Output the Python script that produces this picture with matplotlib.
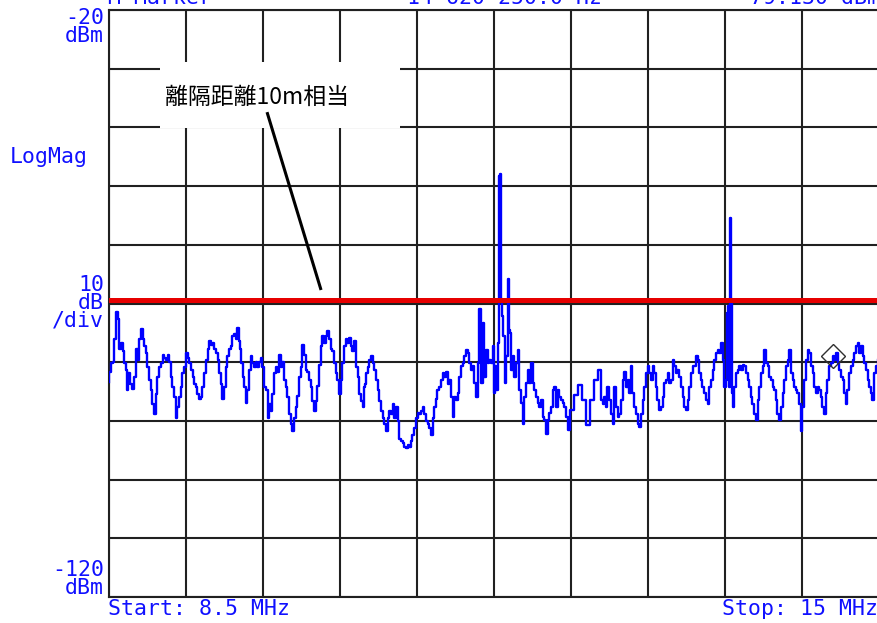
import matplotlib
matplotlib.use("Agg")
import matplotlib.pyplot as plt
from matplotlib.patches import Rectangle

# ---------------- data ----------------
start_mhz, stop_mhz = 8.5, 15.0
ref_top_dbm, ref_bottom_dbm = -20, -120
x_divisions = 10
y_divisions = 10

trace_freq = [
    8.500, 8.508, 8.523, 8.537, 8.551, 8.565, 8.579, 8.584, 8.593, 8.607, 8.621, 8.635, 8.649, 8.658,
    8.669, 8.686, 8.705, 8.719, 8.734, 8.748, 8.762, 8.776, 8.790, 8.804, 8.818, 8.832, 8.846, 8.860,
    8.874, 8.888, 8.902, 8.916, 8.931, 8.945, 8.959, 8.973, 8.987, 9.001, 9.015, 9.029, 9.043, 9.057,
    9.071, 9.085, 9.099, 9.113, 9.127, 9.142, 9.156, 9.170, 9.184, 9.198, 9.212, 9.226, 9.240, 9.254,
    9.268, 9.282, 9.296, 9.310, 9.325, 9.339, 9.353, 9.367, 9.381, 9.395, 9.409, 9.423, 9.437, 9.451,
    9.465, 9.479, 9.493, 9.507, 9.521,
    9.535, 9.549, 9.563, 9.577, 9.591, 9.600, 9.611, 9.622, 9.634, 9.648, 9.662, 9.676, 9.690, 9.704,
    9.718, 9.732, 9.746, 9.760, 9.774, 9.788, 9.802, 9.816, 9.831, 9.845, 9.859, 9.873, 9.887, 9.901,
    9.915, 9.929, 9.943, 9.957, 9.971, 9.985, 9.999, 10.013, 10.027, 10.042, 10.056, 10.070, 10.084,
    10.098, 10.112, 10.126, 10.140, 10.154, 10.168, 10.182, 10.196, 10.210, 10.224, 10.238, 10.253,
    10.267, 10.281, 10.295, 10.309, 10.323, 10.337, 10.351, 10.365, 10.379, 10.393, 10.407, 10.421,
    10.435, 10.449, 10.464, 10.478, 10.492, 10.506, 10.520, 10.534, 10.548, 10.562,
    10.577, 10.591, 10.605, 10.619, 10.633, 10.647, 10.656, 10.667, 10.678, 10.690, 10.704, 10.718,
    10.732, 10.746, 10.760, 10.774, 10.788, 10.802, 10.816, 10.830, 10.844, 10.858, 10.872, 10.887,
    10.901, 10.915, 10.929, 10.943, 10.957, 10.971, 10.985, 10.999, 11.013, 11.027, 11.041, 11.055,
    11.069, 11.083, 11.098, 11.112, 11.126, 11.140, 11.154, 11.168, 11.182, 11.196, 11.210, 11.224,
    11.238, 11.252, 11.266, 11.280, 11.295, 11.309, 11.323, 11.337, 11.351, 11.365,
    11.379, 11.393, 11.407, 11.421, 11.435, 11.449, 11.463, 11.477, 11.492, 11.506, 11.520, 11.534,
    11.548, 11.562, 11.576, 11.590, 11.604, 11.618, 11.632, 11.646, 11.660, 11.674, 11.689, 11.703,
    11.717, 11.731, 11.745, 11.753, 11.764, 11.773, 11.787, 11.795, 11.807, 11.815, 11.824, 11.835,
    11.843, 11.857, 11.871, 11.880, 11.891, 11.902, 11.914, 11.928, 11.942, 11.956, 11.970, 11.984,
    11.998, 12.012, 12.026, 12.040, 12.054, 12.068, 12.083, 12.097, 12.111, 12.125, 12.139, 12.153,
    12.167, 12.181, 12.195, 12.209, 12.223, 12.237, 12.251, 12.265, 12.280, 12.294, 12.308, 12.322,
    12.336, 12.350, 12.364, 12.378,
    12.409, 12.442, 12.476, 12.510, 12.544, 12.577, 12.611,
    12.645, 12.659, 12.673, 12.687, 12.701, 12.715, 12.729, 12.743, 12.758, 12.772, 12.786, 12.800,
    12.814, 12.828, 12.842, 12.856, 12.870, 12.884, 12.898, 12.912, 12.926, 12.940, 12.955, 12.969,
    12.983, 12.997, 13.011, 13.025, 13.039, 13.053, 13.067, 13.081, 13.095, 13.109, 13.123, 13.137,
    13.152, 13.166, 13.180, 13.194, 13.208, 13.222, 13.236, 13.250, 13.264, 13.278, 13.292, 13.306,
    13.320, 13.334, 13.349, 13.363, 13.377, 13.391, 13.405, 13.419, 13.433, 13.447, 13.461, 13.475,
    13.489, 13.503, 13.517, 13.531, 13.546, 13.560, 13.574, 13.588, 13.602, 13.616, 13.630, 13.644,
    13.658, 13.672, 13.686, 13.700, 13.709, 13.720, 13.731, 13.737, 13.742, 13.748, 13.754, 13.759,
    13.765, 13.771, 13.785, 13.799, 13.813, 13.827, 13.841, 13.855, 13.869, 13.883, 13.897, 13.911,
    13.925, 13.939, 13.953, 13.968, 13.982, 13.996, 14.010, 14.024, 14.038, 14.052, 14.066, 14.080,
    14.094, 14.108, 14.122, 14.136, 14.150, 14.165, 14.179, 14.193, 14.207, 14.221, 14.235, 14.249,
    14.263, 14.277, 14.291, 14.305, 14.319, 14.333, 14.347, 14.361, 14.375, 14.390, 14.404, 14.418,
    14.432, 14.446, 14.460, 14.474, 14.488, 14.502, 14.516, 14.530, 14.544, 14.558, 14.572, 14.587,
    14.601, 14.615, 14.629, 14.643, 14.657, 14.671, 14.685, 14.699, 14.713, 14.727, 14.741, 14.755,
    14.769, 14.784, 14.798, 14.812, 14.826, 14.840, 14.854, 14.868, 14.882, 14.896, 14.910, 14.924,
    14.938, 14.952, 14.966, 14.980, 14.995,
]

trace_level = [
    -83.4, -81.6, -80.2, -79.9, -76.1, -71.5, -72.6, -76.1, -77.8, -76.7, -78.1, -80.2, -81.3, -84.8,
    -81.9, -83.7, -84.5, -82.5, -77.8, -79.6, -76.1, -74.4, -76.1, -77.3, -78.4, -80.8, -83.1, -84.8,
    -87.2, -88.9, -85.4, -82.5, -80.8, -80.2, -78.7, -79.3, -79.6, -78.7, -79.9, -82.5, -84.2, -86.0,
    -89.5, -87.7, -86.0, -84.2, -81.9, -80.8, -78.4, -79.3, -80.2, -81.3, -82.5, -83.7, -84.2, -85.4,
    -86.3, -86.0, -84.2, -81.9, -79.6, -77.8, -76.4, -77.0, -76.7, -77.8, -78.4, -79.6, -81.9, -83.7,
    -86.3, -84.2, -80.8, -79.0, -77.8,
    -77.3, -75.5, -75.2, -76.1, -74.1, -76.4, -77.8, -80.2, -82.5, -84.2, -86.9, -84.8, -81.3, -79.0,
    -80.2, -80.8, -79.9, -80.8, -79.9, -79.3, -80.8, -84.2, -84.8, -89.5, -87.2, -88.3, -85.4, -81.9,
    -80.8, -81.6, -78.7, -80.8, -79.9, -83.1, -84.2, -86.0, -88.9, -90.6, -91.8, -89.5, -87.7,
    -85.7, -82.5, -80.8, -77.0, -78.7, -81.3, -81.6, -83.1, -84.2, -86.6, -88.3, -86.6,
    -84.0, -80.5, -77.3, -75.5, -76.7, -75.5, -74.7, -76.1, -77.8, -78.1, -80.2, -81.9,
    -83.1, -85.4, -83.1, -80.2, -77.3, -76.1, -76.7, -75.8, -77.3, -78.1,
    -76.4, -80.8, -82.5, -85.4, -86.6, -87.7, -84.2, -83.7, -81.9, -80.8, -79.6, -79.0,
    -80.2, -81.3, -83.1, -84.8, -86.6, -88.3, -89.5, -90.6, -91.8, -89.5, -88.3, -88.9,
    -87.2, -89.5, -87.7, -90.1, -93.0, -93.5, -93.8, -94.4, -94.7, -94.1, -94.4, -93.5,
    -92.4, -91.2, -89.5, -88.6, -88.9, -88.3, -87.7, -88.9, -90.1, -90.6, -91.2, -92.4,
    -89.5, -87.7, -86.3, -84.8, -84.2, -83.1, -81.9, -82.5, -81.6, -83.7,
    -83.0, -85.9, -89.3, -85.9, -86.5, -85.3, -82.5, -80.7, -80.2, -79.0, -77.9, -78.5,
    -80.2, -81.3, -80.7, -83.6, -85.9, -80.2, -71.0, -83.6, -73.3, -82.5, -77.9, -80.2,
    -79.6, -80.2, -77.3, -85.3, -80.7, -84.7, -76.7, -48.2, -47.9, -69.3, -72.2, -75.6,
    -83.6, -79.0, -65.9, -74.5, -75.0, -81.3, -79.0, -82.5, -80.2, -77.9, -84.7, -87.0,
    -90.5, -85.9, -83.6, -81.3, -83.6, -80.2, -83.6, -84.7, -85.9, -87.0, -87.6, -86.5,
    -89.3, -89.9, -92.2, -89.9, -88.7, -87.6, -84.7, -84.2, -87.6, -84.7, -85.9, -86.5,
    -87.0, -87.6, -89.3, -91.6,
    -88.1, -85.6, -83.9, -86.4, -90.7, -86.4, -83.0,
    -81.3, -86.5, -87.1, -85.9, -87.6, -84.2, -86.5, -88.8, -90.5, -84.2, -87.6, -89.4,
    -88.8, -86.5, -83.0, -81.6, -84.2, -83.0, -85.3, -80.7, -85.3, -87.6, -88.8, -90.5,
    -91.1, -88.8, -86.5, -84.2, -81.9, -80.7, -81.9, -83.0, -80.7, -81.9, -84.2, -86.5,
    -88.2, -87.6, -85.9, -83.6, -83.0, -81.9, -83.6, -83.0, -79.6, -80.7, -81.9, -81.3,
    -82.5, -84.2, -85.9, -87.6, -88.2, -86.5, -84.2, -81.9, -80.7, -80.7, -79.0, -79.6,
    -81.9, -83.0, -84.2, -85.3, -86.5, -87.1, -84.2, -83.0, -81.3, -79.6, -78.4, -77.9,
    -78.4, -76.7, -79.6, -84.2, -83.0, -71.6, -70.4, -84.2, -55.7, -55.5, -69.3, -69.8,
    -85.3, -87.6, -84.2, -81.9, -81.3, -80.7, -81.3, -80.5, -80.7, -81.9, -83.0, -84.2,
    -85.9, -87.1, -88.8, -89.9, -86.5, -84.2, -81.9, -80.7, -77.9, -80.2, -80.7, -82.5,
    -83.0, -84.2, -84.8, -86.5, -88.8, -89.9, -87.6, -85.3, -83.0, -80.7, -79.6, -77.9,
    -81.9, -83.0, -84.2, -84.8, -85.3, -87.1, -91.7, -87.6, -83.0, -79.6, -77.9, -78.4,
    -80.7, -81.9, -84.2, -85.3, -84.2, -84.8, -85.9, -87.6, -88.8, -85.3, -83.0, -80.7,
    -80.2, -79.0, -79.6, -78.4, -80.2, -81.3, -82.5, -83.0, -85.3, -87.1, -84.8, -81.9,
    -80.7, -79.6, -78.4, -77.3, -76.7, -78.4, -77.3, -79.0, -80.2, -81.3, -83.0, -84.2,
    -85.3, -86.5, -81.9, -80.7, -79.6,
]

reference_level_dbm = -69.4
marker_freq_mhz = 14.612
marker_level_dbm = -79.0

annotation_text = "離隔距離10m相当"
annotation_box_x = (8.93, 10.96)
annotation_box_y = (-40.1, -28.9)
annotation_text_pos = (9.75, -34.8)
annotation_line_x = (9.834, 10.290)
annotation_line_y = (-37.4, -67.7)

header_left = "M Marker"
header_center = "14 620 250.0 Hz"
header_right = "-79.130 dBm"
top_label = "-20\ndBm"
bottom_label = "-120\ndBm"
scale_label = "10\ndB\n/div"
format_label = "LogMag"
start_label = "Start: 8.5 MHz"
stop_label = "Stop: 15 MHz"

# ---------------- figure ----------------
W, H = 878, 623
fig = plt.figure(figsize=(W / 100, H / 100), dpi=100)
fig.patch.set_facecolor("white")

ax_left, ax_right, ax_top, ax_bottom = 109, 879, 10, 597
ax = fig.add_axes([ax_left / W, 1 - ax_bottom / H, (ax_right - ax_left) / W, (ax_bottom - ax_top) / H])
ax.set_xlim(start_mhz, stop_mhz)
ax.set_ylim(ref_bottom_dbm, ref_top_dbm)
step_x = (stop_mhz - start_mhz) / x_divisions
step_y = (ref_top_dbm - ref_bottom_dbm) / y_divisions
ax.set_xticks([start_mhz + i * step_x for i in range(x_divisions + 1)])
ax.set_yticks([ref_bottom_dbm + i * step_y for i in range(y_divisions + 1)])
ax.tick_params(length=0, labelbottom=False, labelleft=False)
ax.grid(True, color="#202020", linewidth=1.5)
ax.set_axisbelow(True)
for s in ax.spines.values():
    s.set_color("#202020")
    s.set_linewidth(1.5)

# annotation white box (covers grid)
ax.add_patch(Rectangle((annotation_box_x[0], annotation_box_y[0]),
                       annotation_box_x[1] - annotation_box_x[0],
                       annotation_box_y[1] - annotation_box_y[0],
                       facecolor="white", edgecolor="none", zorder=2))

ax.plot(trace_freq, trace_level, color="#0000ff", linewidth=1.7, zorder=3,
        drawstyle="steps-mid")
ax.axhline(reference_level_dbm, color="#e60000", linewidth=3.6, zorder=4)
ax.plot([marker_freq_mhz], [marker_level_dbm], marker="D", markersize=12,
        markerfacecolor="none", markeredgecolor="#303030", markeredgewidth=1.0, zorder=5)

ax.plot(annotation_line_x, annotation_line_y, color="black", linewidth=2.2, zorder=5,
        solid_capstyle="butt")
ax.text(annotation_text_pos[0], annotation_text_pos[1], annotation_text,
        family=["Noto Sans CJK JP", "DejaVu Sans"], fontsize=16.5, color="black",
        ha="center", va="center", zorder=6)

# ---------------- instrument labels ----------------
blue = "#1010ff"
mono = dict(family="DejaVu Sans Mono", color=blue, fontsize=15.5, linespacing=0.85)

def px(x, y):
    return x / W, 1 - y / H

fig.text(*px(104, 27), top_label, ha="right", va="center", **mono)
fig.text(*px(104, 579), bottom_label, ha="right", va="center", **mono)
fig.text(*px(104, 303), scale_label, ha="right", va="center", **mono)
fig.text(*px(10, 157), format_label, ha="left", va="center", **mono)
fig.text(*px(108, 609), start_label, ha="left", va="center", **mono)
fig.text(*px(878, 609), stop_label, ha="right", va="center", **mono)
fig.text(*px(108, -2), header_left, ha="left", va="center", **mono)
fig.text(*px(407, -2), header_center, ha="left", va="center", **mono)
fig.text(*px(880, -2), header_right, ha="right", va="center", **mono)

fig.savefig("out.png", dpi=100, facecolor="white")
